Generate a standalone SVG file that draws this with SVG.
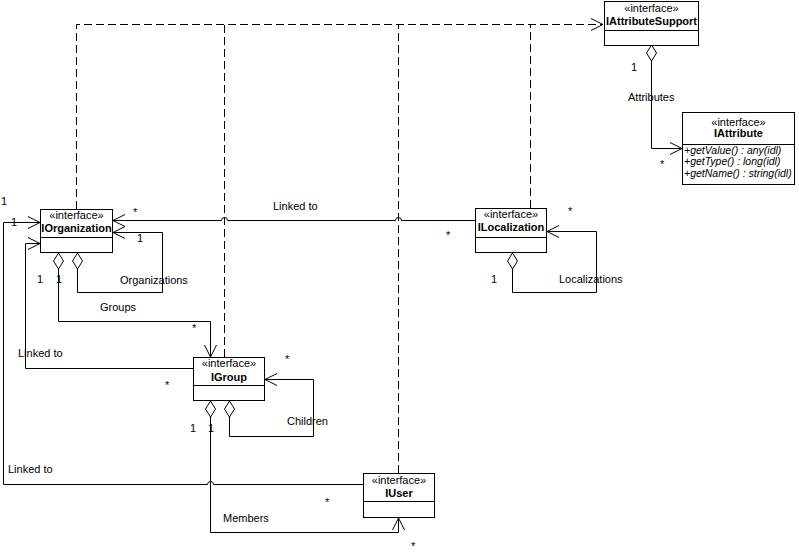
<svg xmlns="http://www.w3.org/2000/svg" width="799" height="554" viewBox="0 0 799 554">
<style>
text{font-family:"Liberation Sans",Arial,sans-serif;font-size:11px;fill:#000}
.st{text-anchor:middle}
.nm{text-anchor:middle;font-weight:bold}
.it{font-style:italic;font-size:10.5px}
.box{fill:#fff;stroke:#000;stroke-width:1}
.ln{fill:none;stroke:#000;stroke-width:1}
.dash{fill:none;stroke:#000;stroke-width:1;stroke-dasharray:8,4}
</style>
<defs>
<marker id="arr" markerUnits="userSpaceOnUse" viewBox="-14 -8 16 16" refX="0" refY="0" markerWidth="16" markerHeight="16" orient="auto">
<path d="M-12,-6 L0,0 L-12,6" fill="none" stroke="#000" stroke-width="1"/>
</marker>
<marker id="dia" markerUnits="userSpaceOnUse" viewBox="-1 -7 18 14" refX="0" refY="0" markerWidth="18" markerHeight="14" orient="auto">
<path d="M0,0 L8,-5 L16,0 L8,5 Z" fill="#fff" stroke="#000" stroke-width="1"/>
</marker>
</defs>
<rect width="799" height="554" fill="#fff"/>

<g id="connectors">
<path class="dash" d="M76.5,209 L76.5,24.5 L603,24.5" marker-end="url(#arr)"/>
<path class="dash" d="M224.5,357 L224.5,24.5"/>
<path class="dash" d="M398.5,473 L398.5,24.5"/>
<path class="dash" d="M530.5,208 L530.5,24.5"/>
<path class="ln" d="M475,220.5 L401.5,220.5 A3,3 0 0 0 395.5,220.5 L227.5,220.5 A3,3 0 0 0 221.5,220.5 L113,220.5" marker-end="url(#arr)"/>
<path class="ln" d="M77.5,253 L77.5,292.5 L162.5,292.5 L162.5,232.5 L113,232.5" marker-start="url(#dia)" marker-end="url(#arr)"/>
<path class="ln" d="M58.5,253 L58.5,321.5 L210.5,321.5 L210.5,357" marker-start="url(#dia)" marker-end="url(#arr)"/>
<path class="ln" d="M193,368.5 L25.5,368.5 L25.5,243.5 L40,243.5" marker-end="url(#arr)"/>
<path class="ln" d="M229.5,401 L229.5,436.5 L313.5,436.5 L313.5,379.5 L265,379.5" marker-start="url(#dia)" marker-end="url(#arr)"/>
<path class="ln" d="M210.5,401 L210.5,532.5 L398.5,532.5 L398.5,518" marker-start="url(#dia)" marker-end="url(#arr)"/>
<path class="ln" d="M363,484.5 L213.5,484.5 A3,3 0 0 0 207.5,484.5 L3.5,484.5 L3.5,222.5 L40,222.5" marker-end="url(#arr)"/>
<path class="ln" d="M512.5,253 L512.5,292.5 L596.5,292.5 L596.5,231.5 L547,231.5" marker-start="url(#dia)" marker-end="url(#arr)"/>
<path class="ln" d="M651.5,45 L651.5,148.5 L682,148.5" marker-start="url(#dia)" marker-end="url(#arr)"/>
</g>

<g id="labels">
<text x="1" y="205">1</text>
<text x="11" y="226">1</text>
<text x="133" y="216">*</text>
<text x="137" y="242">1</text>
<text x="37" y="283">1</text>
<text x="56" y="283">1</text>
<text x="120" y="284">Organizations</text>
<text x="273" y="210">Linked to</text>
<text x="446" y="239">*</text>
<text x="568" y="215">*</text>
<text x="491" y="283">1</text>
<text x="559" y="283">Localizations</text>
<text x="100" y="311">Groups</text>
<text x="192" y="332">*</text>
<text x="18" y="357">Linked to</text>
<text x="285" y="363">*</text>
<text x="165" y="389">*</text>
<text x="190" y="432">1</text>
<text x="208" y="432">1</text>
<text x="287" y="425">Children</text>
<text x="8" y="473">Linked to</text>
<text x="325" y="506">*</text>
<text x="223" y="522">Members</text>
<text x="411" y="550">*</text>
<text x="631" y="71">1</text>
<text x="628" y="101">Attributes</text>
<text x="660" y="168">*</text>
</g>

<g id="IAttributeSupport">
<rect class="box" x="604.5" y="1.5" width="94" height="44"/>
<line class="ln" x1="604.5" y1="30.5" x2="698.5" y2="30.5"/>
<text class="st" x="651.5" y="12">«interface»</text>
<text class="nm" x="651.5" y="25">IAttributeSupport</text>
</g>

<g id="IAttribute">
<rect class="box" x="682.5" y="112.5" width="112" height="72"/>
<line class="ln" x1="682.5" y1="144.5" x2="794.5" y2="144.5"/>
<text class="st" x="738.5" y="126">«interface»</text>
<text class="nm" x="738.5" y="137">IAttribute</text>
<text class="it" x="684" y="154">+getValue() : any(idl)</text>
<text class="it" x="684" y="165">+getType() : long(idl)</text>
<text class="it" x="684" y="177">+getName() : string(idl)</text>
</g>

<g id="IOrganization">
<rect class="box" x="40.5" y="209.5" width="72" height="43"/>
<line class="ln" x1="40.5" y1="237.5" x2="112.5" y2="237.5"/>
<text class="st" x="76.5" y="219">«interface»</text>
<text class="nm" x="76.5" y="232">IOrganization</text>
</g>

<g id="ILocalization">
<rect class="box" x="475.5" y="208.5" width="71" height="44"/>
<line class="ln" x1="475.5" y1="237.5" x2="546.5" y2="237.5"/>
<text class="st" x="511" y="218">«interface»</text>
<text class="nm" x="511" y="231">ILocalization</text>
</g>

<g id="IGroup">
<rect class="box" x="193.5" y="357.5" width="71" height="43"/>
<line class="ln" x1="193.5" y1="385.5" x2="264.5" y2="385.5"/>
<text class="st" x="229" y="367">«interface»</text>
<text class="nm" x="229" y="381">IGroup</text>
</g>

<g id="IUser">
<rect class="box" x="363.5" y="473.5" width="71" height="44"/>
<line class="ln" x1="363.5" y1="501.5" x2="434.5" y2="501.5"/>
<text class="st" x="399" y="484">«interface»</text>
<text class="nm" x="399" y="497">IUser</text>
</g>
</svg>
